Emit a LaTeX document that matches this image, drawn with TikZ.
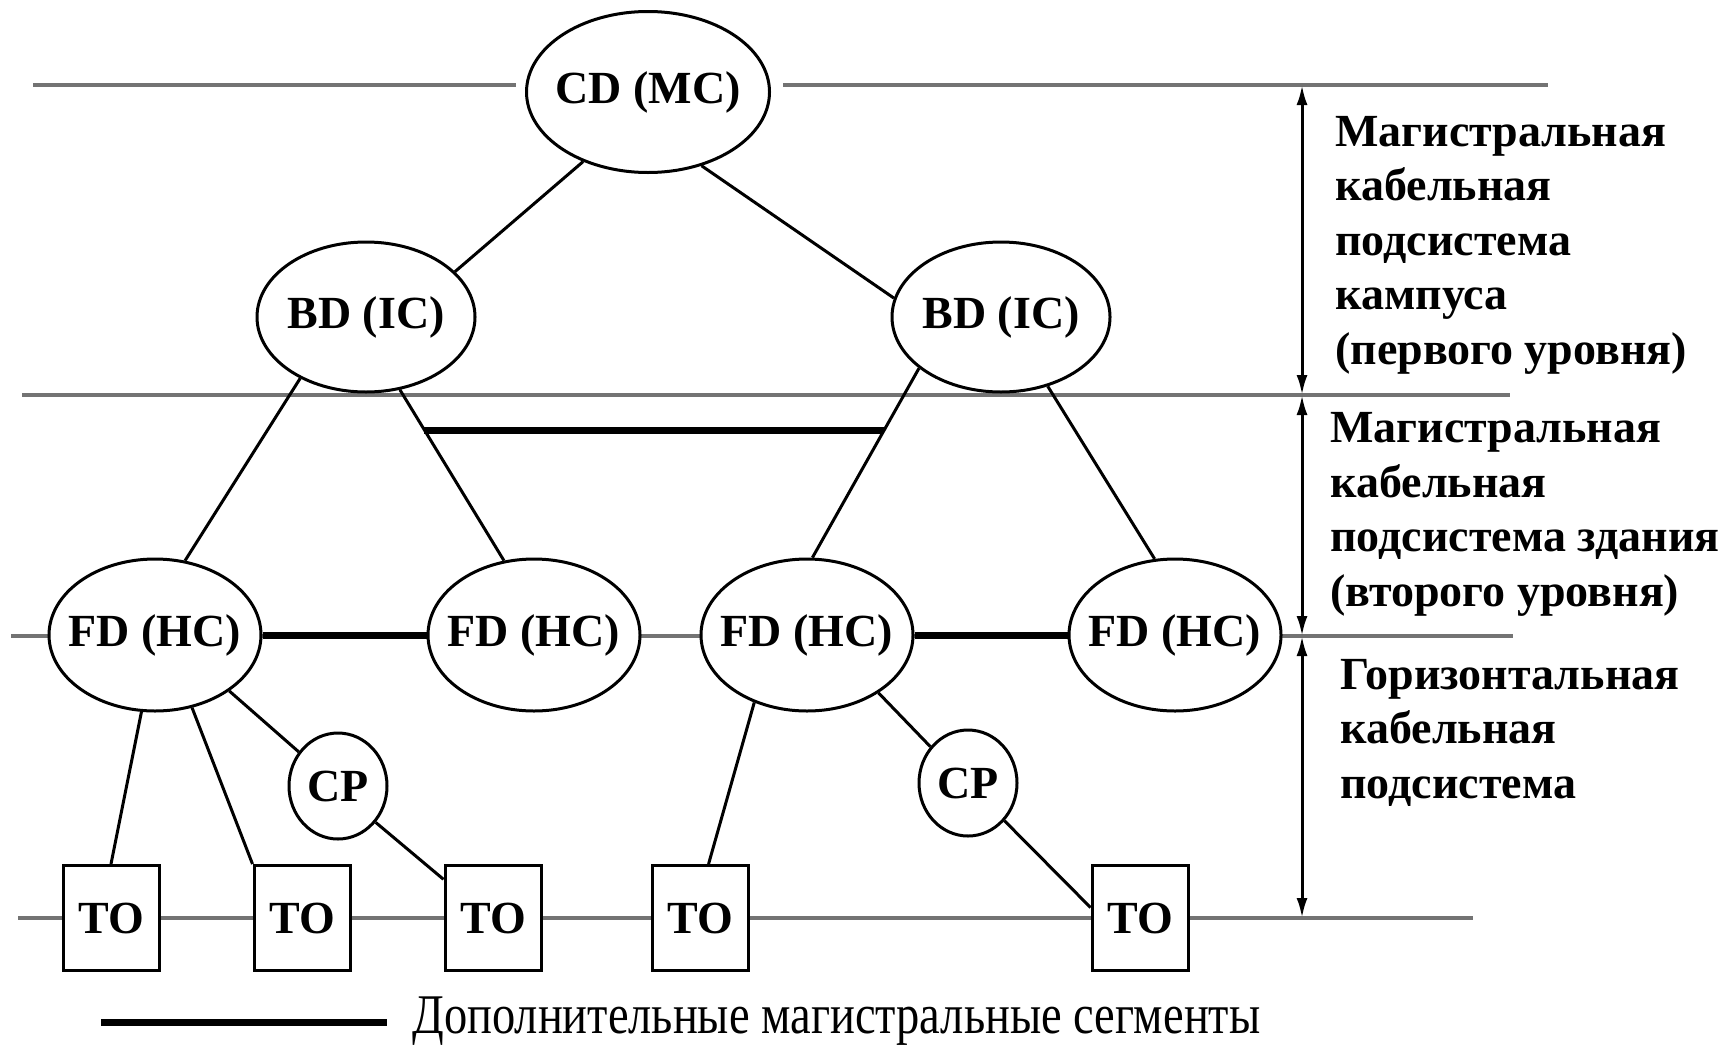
\documentclass[tikz,border=0pt]{standalone}
\usepackage{fontspec}
\setmainfont{Liberation Serif}
\newfontfamily\narrowfont[FakeStretch=0.83]{Liberation Serif}
\usepackage{tikz}
\usetikzlibrary{arrows.meta,shapes.geometric}

\begin{document}
\begin{tikzpicture}[x=5pt,y=5pt]
\tikzstyle{every node}+=[inner sep=0pt, font=\fontsize{23}{27.25}\selectfont\bfseries]
\tikzstyle{level}=[black!55, line width=2pt]
\tikzstyle{link}=[black, line width=1.5pt]
\tikzstyle{extra}=[black, line width=3.5pt]
\tikzstyle{spanarrow}=[black, line width=1.5pt, {Latex[length=10pt,width=5.5pt]}-{Latex[length=10pt,width=5.5pt]}]
\tikzstyle{oval}=[draw=black, fill=white, ellipse, line width=1.5pt, inner sep=-6pt]
\tikzstyle{outlet}=[draw=black, fill=white, rectangle, line width=1.5pt, minimum width=48pt, minimum height=52.5pt]
\tikzstyle{note}=[anchor=base west, align=left]
\useasboundingbox (0,0) rectangle (173.2,-104.4);
\fill [white] (0,0) rectangle (173.2,-104.4);
\coordinate (a1) at (130.2,-8.5);
\coordinate (a2) at (130.2,-39.5);
\coordinate (a3) at (130.2,-63.6);
\coordinate (a4) at (130.2,-91.8);
\draw [level] (2.2,-39.5) -- (151,-39.5);
\draw [level] (1.1,-63.6) -- (151.3,-63.6);
\draw [level] (1.8,-91.8) -- (147.3,-91.8);
\node [oval, minimum width=121.5pt, minimum height=80.5pt] (CD) at (64.8,-9.2) {CD (MC)};
\node [oval, minimum width=109pt, minimum height=75pt] (BDl) at (36.6,-31.7) {BD (IC)};
\node [oval, minimum width=109pt, minimum height=75pt] (BDr) at (100.1,-31.7) {BD (IC)};
\node [oval, minimum width=106pt, minimum height=76pt] (FD1) at (15.5,-63.5) {FD (HC)};
\node [oval, minimum width=106pt, minimum height=76pt] (FD2) at (53.4,-63.5) {FD (HC)};
\node [oval, minimum width=106pt, minimum height=76pt] (FD3) at (80.7,-63.5) {FD (HC)};
\node [oval, minimum width=106pt, minimum height=76pt] (FD4) at (117.5,-63.5) {FD (HC)};
\node [oval, minimum width=49pt, minimum height=53pt] (CPl) at (33.8,-78.6) {CP};
\node [oval, minimum width=49pt, minimum height=53pt] (CPr) at (96.8,-78.3) {CP};
\node [outlet] (TO1) at (11.1,-91.8) {TO};
\node [outlet] (TO2) at (30.2,-91.8) {TO};
\node [outlet] (TO3) at (49.3,-91.8) {TO};
\node [outlet] (TO4) at (70,-91.8) {TO};
\node [outlet] (TO5) at (114,-91.8) {TO};
\draw [level, shorten >=4.5pt] (3.3,-8.5) -- (CD.west |- a1);
\draw [level, shorten <=6pt] (CD.east |- a1) -- (154.8,-8.5);
% tree
\draw [link] (CD.227) -- (BDl.27);
\draw [link] (CD.306) -- (BDr.170);
\draw [link] (BDl.223) -- (FD1.68);
\draw [link] (BDl.295) -- (FD2.112);
\draw [link] (BDr.212) -- (FD3.86);
\draw [link] (BDr.304) -- (FD4.105);
\draw [link] (FD1.260) -- (TO1.north);
\draw [link] (FD1.297) -- (TO2.north west);
\draw [link] (FD1.323) -- (CPl.139);
\draw [link] (CPl.316) -- (TO3.142);
\draw [link] (FD3.232) -- (TO4.81);
\draw [link] (FD3.321) -- (CPr.136);
\draw [link] (CPr.314) -- (TO5.168);
% extra backbone segments
\coordinate (ex1) at (intersection of BDl.295--FD2.112 and 0,-43--10,-43);
\coordinate (ex2) at (intersection of BDr.212--FD3.86 and 0,-43--10,-43);
\draw [extra] (ex1) -- (ex2);
\draw [extra] (FD1.east) -- (FD2.west);
\draw [extra] (FD3.east) -- (FD4.west);
% subsystem ranges
\draw [spanarrow] (a1) -- (a2);
\draw [spanarrow] (a2) -- (a3);
\draw [spanarrow] (a3) -- (a4);
\node [note] (t1) at (133.5,-36.4) {Магистральная\\кабельная\\подсистема\\кампуса\\(первого уровня)};
\node [note] (t2) at (133,-60.6) {Магистральная\\кабельная\\подсистема здания\\(второго уровня)};
\node [note] (t3) at (134,-79.8) {Горизонтальная\\кабельная\\подсистема};
% legend
\coordinate (lg1) at (10.1,-102.2);
\coordinate (lg2) at (38.7,-102.2);
\draw [extra] (lg1) -- (lg2);
\node [anchor=base west, font=\fontsize{28}{32}\narrowfont] (lgt) at (41.2,-103.3) {Дополнительные магистральные сегменты};
\end{tikzpicture}
\end{document}
